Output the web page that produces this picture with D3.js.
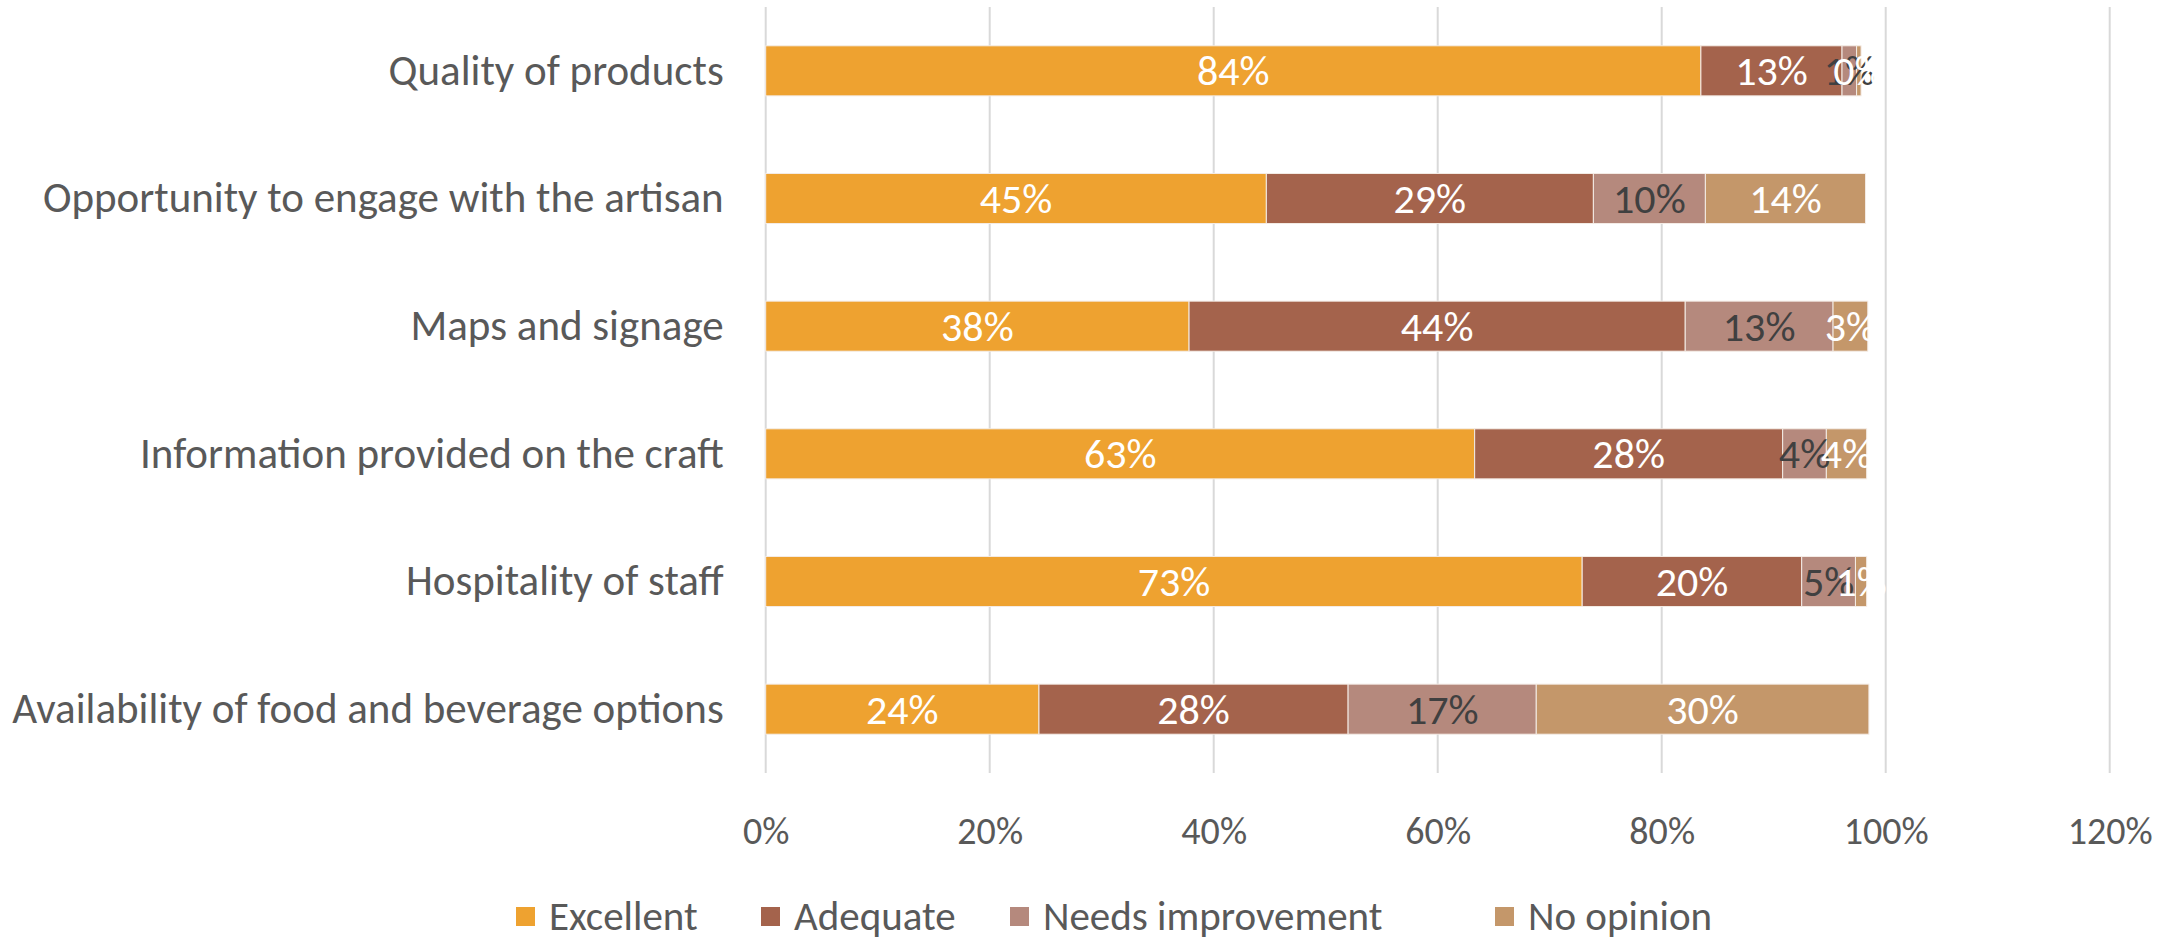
<!DOCTYPE html>
<html>
<head>
<meta charset="utf-8">
<script src="https://cdn.jsdelivr.net/npm/d3@7"></script>
<style>
  html, body { margin: 0; padding: 0; background: #ffffff; }
  svg { display: block; }
  text { font-family: Calibri, Carlito, Lato, "Open Sans", sans-serif; }
</style>
</head>
<body>
<svg id="chart" width="2176" height="940"></svg>
<script>
// Visitor ratings per aspect, share of respondents (%)
const categories = [
  "Quality of products",
  "Opportunity to engage with the artisan",
  "Maps and signage",
  "Information provided on the craft",
  "Hospitality of staff",
  "Availability of food and beverage options"
];
const seriesNames = ["Excellent", "Adequate", "Needs improvement", "No opinion"];
const excellent        = [83.5, 44.7, 37.8, 63.3, 72.9, 24.4];
const adequate         = [12.6, 29.2, 44.3, 27.5, 19.6, 27.6];
const needsImprovement = [1.3, 10.0, 13.2, 3.9, 4.8, 16.8];
const noOpinion        = [0.4, 14.3, 3.1, 3.6, 1.0, 29.7];
const xTicks = [0, 20, 40, 60, 80, 100, 120];

const seriesValues = [excellent, adequate, needsImprovement, noOpinion];
const colors = ["#EEA230", "#A4634C", "#B5897D", "#C4976A"];
const labelColors = ["#ffffff", "#ffffff", "#404040", "#ffffff"];

const svg = d3.select("#chart");

const x = d3.scaleLinear().domain([0, 120]).range([765.7, 2109.7]);
const y = d3.scaleBand().domain(categories).range([7, 773]).paddingInner(0.608).paddingOuter(0.304);

// vertical gridlines
svg.append("g")
  .selectAll("line")
  .data(xTicks)
  .join("line")
  .attr("x1", d => x(d)).attr("x2", d => x(d))
  .attr("y1", 7).attr("y2", 773)
  .attr("stroke", "#d9d9d9")
  .attr("stroke-width", 2);

// stacked data
const rows = categories.map((c, i) => {
  const r = { category: c };
  seriesNames.forEach((s, k) => { r[s] = seriesValues[k][i]; });
  return r;
});
const stacked = d3.stack().keys(seriesNames)(rows);

const layers = svg.append("g")
  .selectAll("g")
  .data(stacked)
  .join("g")
  .attr("fill", (d, k) => colors[k]);

layers.selectAll("rect")
  .data(d => d)
  .join("rect")
  .attr("x", d => x(d[0]))
  .attr("width", d => x(d[1]) - x(d[0]))
  .attr("y", d => y(d.data.category))
  .attr("height", y.bandwidth())
  .attr("stroke", "#f4ece6")
  .attr("stroke-width", 1);

// value labels centred in each segment
svg.append("g")
  .selectAll("g")
  .data(stacked)
  .join("g")
  .attr("fill", (d, k) => labelColors[k])
  .selectAll("text")
  .data(d => d)
  .join("text")
  .attr("x", d => (x(d[0]) + x(d[1])) / 2)
  .attr("y", d => y(d.data.category) + y.bandwidth() / 2)
  .attr("text-anchor", "middle")
  .attr("dominant-baseline", "central")
  .attr("font-size", 42)
  .text(d => Math.round(d[1] - d[0]) + "%");

// category axis
const yAxis = svg.append("g")
  .attr("transform", `translate(${x(0)},0)`)
  .call(d3.axisLeft(y).tickSize(0).tickPadding(42));
yAxis.select(".domain").remove();
yAxis.selectAll("text")
  .attr("font-size", 43)
  .attr("fill", "#595959")
  .style("font-family", "Calibri, Carlito, Lato, 'Open Sans', sans-serif");

// value axis
const xAxis = svg.append("g")
  .attr("transform", "translate(0,773)")
  .call(d3.axisBottom(x).tickValues(xTicks).tickSize(0).tickPadding(44).tickFormat(d => d + "%"));
xAxis.select(".domain").remove();
xAxis.selectAll("text")
  .attr("font-size", 38)
  .attr("fill", "#595959")
  .style("font-family", "Calibri, Carlito, Lato, 'Open Sans', sans-serif");

// legend
const legendX = [516, 761, 1010, 1495];
const legend = svg.append("g")
  .selectAll("g")
  .data(seriesNames)
  .join("g")
  .attr("transform", (d, i) => `translate(${legendX[i]},916)`);
legend.append("rect")
  .attr("x", 0).attr("y", -9)
  .attr("width", 19).attr("height", 19)
  .attr("fill", (d, i) => colors[i]);
legend.append("text")
  .attr("x", 33).attr("y", 0)
  .attr("dominant-baseline", "central")
  .attr("font-size", 41)
  .attr("fill", "#595959")
  .text(d => d);
</script>
</body>
</html>
